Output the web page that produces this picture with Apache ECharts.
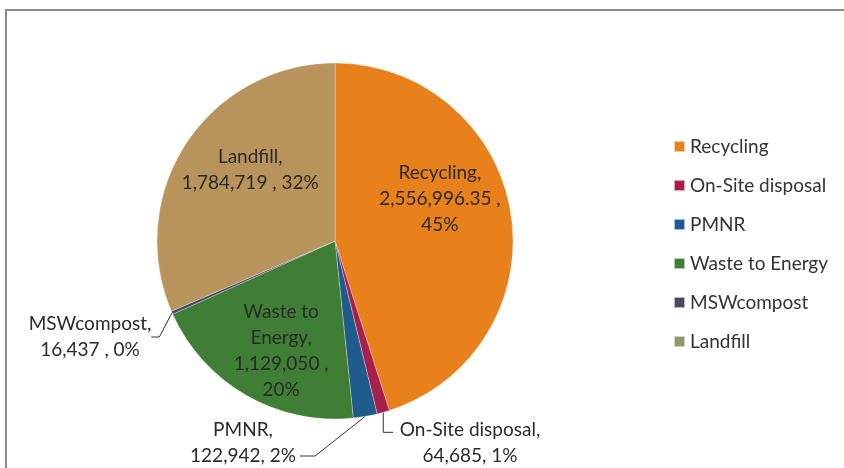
<!DOCTYPE html>
<html>
<head>
<meta charset="utf-8">
<script src="https://cdn.jsdelivr.net/npm/echarts@6/dist/echarts.min.js"></script>
<style>
  html, body { margin: 0; padding: 0; background: #fff; }
  #chart { width: 844px; height: 468px; }
</style>
</head>
<body>
<div id="chart"></div>
<script>
  // waste disposal totals
  const categories = ['Recycling', 'On-Site disposal', 'PMNR', 'Waste to Energy', 'MSWcompost', 'Landfill'];
  const values = [2556996.35, 64685, 122942, 1129050, 16437, 1784719];
  const labelText = [
    'Recycling,\n2,556,996.35 ,\n45%',
    'On-Site disposal,\n64,685, 1%',
    'PMNR,\n122,942, 2%',
    'Waste to\nEnergy,\n1,129,050 ,\n20%',
    'MSWcompost,\n16,437 , 0%',
    'Landfill,\n1,784,719 , 32%'
  ];
  const colors = ['#e8801c', '#a8204a', '#1f5b8c', '#3f7f35', '#4a4870', '#b8935c'];
  // the legend swatches in the original are a touch different from the slices
  const legendColors = ['#e8801c', '#a8204a', '#1f5b8c', '#3f7f35', '#4a4a5c', '#8f9766'];

  const font = 'Lato, "Open Sans", sans-serif';

  // inside labels are nudged, outside labels are placed like the original
  const labelCfg = [
    { position: 'inside', offset: [14, -28] },
    { position: 'outside' },
    { position: 'outside' },
    { position: 'inside', offset: [-8, 30] },
    { position: 'outside' },
    { position: 'inside', offset: [-8, -20] }
  ];
  const outsideSpot = {
    1: { x: 470, y: 443, bend: (a) => [[a[0], a[1] + 20], [a[0] + 10, a[1] + 20]] },
    2: { x: 243, y: 443, bend: () => [[315, 456], [300, 456]] },
    4: { x: 90, y: 337 }
  };

  const chart = echarts.init(document.getElementById('chart'));
  const option = {
    color: colors,
    animation: false,
    graphic: [{
      type: 'rect',
      shape: { x: 6, y: 10, width: 900, height: 500 },
      style: { fill: 'none', stroke: '#8a8a8a', lineWidth: 2 },
      silent: true
    }],
    legend: {
      orient: 'vertical',
      left: 668,
      top: 132,
      icon: 'rect',
      itemWidth: 11,
      itemHeight: 11,
      itemGap: 20,
      data: categories.map((name, i) => ({ name: name, itemStyle: { color: legendColors[i] } })),
      textStyle: { fontFamily: font, fontSize: 19, lineHeight: 19, color: '#333' }
    },
    series: [{
      type: 'pie',
      center: [335, 241],
      radius: 178,
      startAngle: 90,
      clockwise: true,
      avoidLabelOverlap: false,
      itemStyle: { borderColor: 'rgba(255,255,255,0.6)', borderWidth: 0.5 },
      labelLine: { length: 12, length2: 8, lineStyle: { color: '#333', width: 1 } },
      label: {
        fontFamily: font,
        fontSize: 19,
        lineHeight: 26,
        align: 'center',
        color: '#2a2a2a',
        formatter: p => labelText[p.dataIndex]
      },
      labelLayout: p => {
        const s = outsideSpot[p.dataIndex];
        if (!s) return {};
        const out = { x: s.x, y: s.y, align: 'center', verticalAlign: 'middle' };
        if (s.bend && p.labelLinePoints) {
          const a = p.labelLinePoints[0];
          out.labelLinePoints = [a].concat(s.bend(a));
        }
        return out;
      },
      data: categories.map((name, i) => ({
        name: name,
        value: values[i],
        label: labelCfg[i],
        labelLine: { show: labelCfg[i].position === 'outside' }
      }))
    }]
  };
  chart.setOption(option);
</script>
</body>
</html>
